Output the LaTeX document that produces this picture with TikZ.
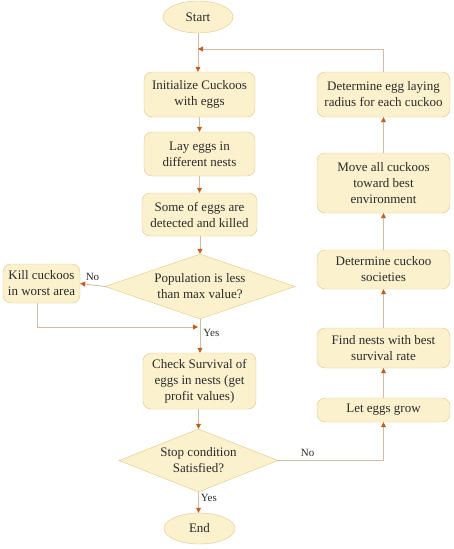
\documentclass[tikz,border=0pt]{standalone}
\usepackage{fontspec}
\setmainfont{Liberation Serif}
\usetikzlibrary{shapes.geometric,arrows.meta}
\definecolor{boxfill}{HTML}{FCF1CD}
\definecolor{boxdraw}{HTML}{DCC888}
\definecolor{linec}{HTML}{D2BBA5}
\definecolor{tipc}{HTML}{C0601A}
\definecolor{txt}{HTML}{2A2A2A}
\begin{document}
\begin{tikzpicture}[x=1pt,y=-1pt,
  font=\fontsize{13}{16}\selectfont, text=txt,
  proc/.style={draw=boxdraw, fill=boxfill, rounded corners=8pt, align=center, inner sep=0pt},
  term/.style={draw=boxdraw, fill=boxfill, ellipse, inner sep=0pt, align=center},
  dec/.style={draw=boxdraw, fill=boxfill, diamond, inner sep=0pt, align=center},
  flow/.style={draw=linec, line width=0.8pt, -{Triangle[length=5pt,width=5pt,color=tipc]}},
  lab/.style={font=\fontsize{11}{13}\selectfont, inner sep=1pt}]
\useasboundingbox (0,0) rectangle (454,549);
% left column
\node[term, minimum width=70pt, minimum height=32pt] (start) at (198,17) {Start};
\node[proc, minimum width=111pt, minimum height=45pt] (init) at (199.5,94.5) {Initialize Cuckoos\\with eggs};
\node[proc, minimum width=111pt, minimum height=44pt] (lay) at (199.5,154) {Lay eggs in\\different nests};
\node[proc, minimum width=115pt, minimum height=43pt] (kill1) at (199.5,214.5) {Some of eggs are\\detected and killed};
\node[dec, aspect=2.92, minimum width=190pt, minimum height=65pt] (pop) at (200,286.5) {Population is less\\than max value?};
\node[proc, minimum width=77pt, minimum height=39pt] (kill) at (41.5,283.5) {Kill cuckoos\\in worst area};
\node[proc, minimum width=113pt, minimum height=56pt] (check) at (199.5,381) {Check Survival of\\eggs in nests (get\\profit values)};
\node[dec, aspect=2.52, minimum width=159pt, minimum height=63pt] (stop) at (198.5,460.5) {Stop condition\\Satisfied?};
\node[term, minimum width=71pt, minimum height=31pt] (end) at (199.5,528.5) {End};
% right column
\node[proc, minimum width=133pt, minimum height=45pt] (radius) at (383.5,94.5) {Determine egg laying\\radius for each cuckoo};
\node[proc, minimum width=133pt, minimum height=60pt] (move) at (383.5,183) {Move all cuckoos\\toward best\\environment};
\node[proc, minimum width=133pt, minimum height=39pt] (soc) at (383.5,269.5) {Determine cuckoo\\societies};
\node[proc, minimum width=133pt, minimum height=40pt] (find) at (383.5,348) {Find nests with best\\survival rate};
\node[proc, minimum width=133pt, minimum height=24pt] (grow) at (383.5,410) {Let eggs grow};
% junctions
\coordinate (j1) at (198,49);
\coordinate (j2) at (198,327);
% connectors
\draw[flow] (start.south) -- (start.south |- init.north);
\draw[flow] (radius.north) |- (j1);
\draw[flow] (init) -- (lay);
\draw[flow] (lay) -- (kill1);
\draw[flow] (kill1.south -| pop.north) -- (pop.north);
\draw[flow] (pop.west) -- (kill.east) node[lab, pos=0.5, above=3pt] {No};
\draw[flow] ([xshift=-4pt]kill.south) |- (j2);
\draw[flow] (pop.south) -- (pop.south |- check.north) node[lab, pos=0.4, right=2pt] {Yes};
\draw[flow] (check.south -| stop.north) -- (stop.north);
\draw[flow] (stop.south) -- (stop.south |- end.north) node[lab, pos=0.3, right=1pt] {Yes};
\draw[flow] (stop.east) -| (grow.south) node[lab, pos=0.14, above=2pt] {No};
\draw[flow] (grow) -- (find);
\draw[flow] (find) -- (soc);
\draw[flow] (soc) -- (move);
\draw[flow] (move) -- (radius);
\end{tikzpicture}
\end{document}
